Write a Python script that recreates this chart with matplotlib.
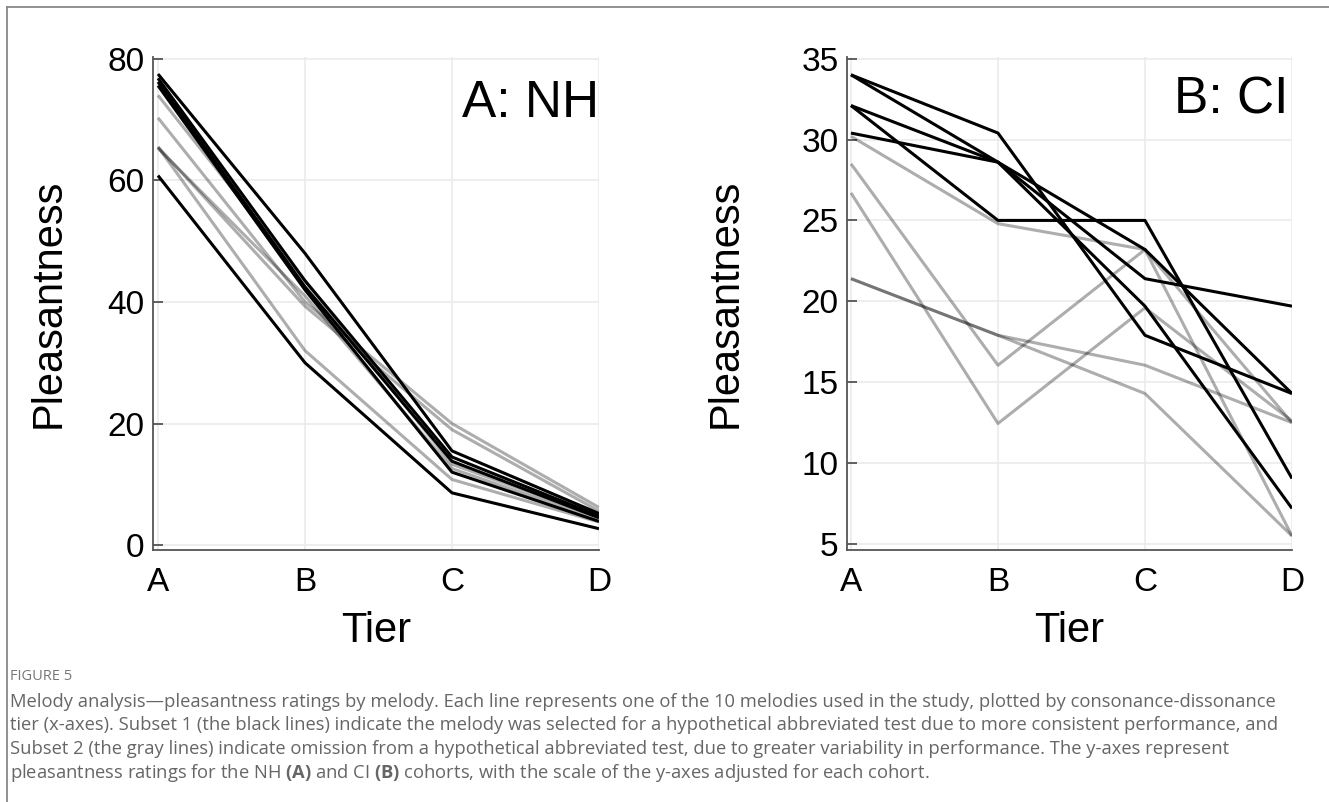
import matplotlib.pyplot as plt
import numpy as np
from matplotlib.lines import Line2D

tiers = ['A', 'B', 'C', 'D']

# NH cohort, ratings per tier (A-D) for each melody
nh_subset1 = [
    [77.5, 48.0, 15.5, 5.2],
    [76.8, 43.5, 14.5, 4.8],
    [76.2, 42.5, 13.8, 4.5],
    [75.6, 42.0, 12.0, 3.9],
    [60.8, 30.0, 8.6, 2.7],
]
nh_subset2 = [
    [74.0, 43.5, 13.3, 4.6],
    [70.3, 40.0, 20.0, 6.2],
    [65.5, 39.3, 19.0, 5.6],
    [65.5, 32.0, 10.8, 3.8],
    [65.3, 41.0, 12.6, 4.2],
]

# CI cohort
ci_subset1 = [
    [34.0, 30.4, 17.9, 14.3],
    [34.0, 28.6, 19.7, 7.2],
    [32.1, 28.6, 23.2, 14.3],
    [32.1, 25.0, 25.0, 9.05],
    [30.4, 28.6, 21.4, 19.7],
]
ci_subset2 = [
    [30.2, 24.8, 23.2, 12.5],
    [28.5, 16.05, 23.2, 5.5],
    [26.7, 12.45, 19.6, 12.6],
    [21.4, 17.9, 16.05, 12.5],
    [21.4, 17.9, 14.3, 5.5],
]

nh_yticks = [0, 20, 40, 60, 80]
ci_yticks = [5, 10, 15, 20, 25, 30, 35]

caption_title = 'FIGURE 5'
caption_lines = [
    'Melody analysis\u2014pleasantness ratings by melody. Each line represents one of the 10 melodies used in the study, plotted by consonance-dissonance',
    'tier (x-axes). Subset 1 (the black lines) indicate the melody was selected for a hypothetical abbreviated test due to more consistent performance, and',
    'Subset 2 (the gray lines) indicate omission from a hypothetical abbreviated test, due to greater variability in performance. The y-axes represent',
    'pleasantness ratings for the NH $\\mathbf{(A)}$ and CI $\\mathbf{(B)}$ cohorts, with the scale of the y-axes adjusted for each cohort.',
]

plt.rcParams['font.family'] = ['Liberation Sans', 'DejaVu Sans']
plt.rcParams['mathtext.fontset'] = 'custom'
plt.rcParams['mathtext.bf'] = 'Open Sans:bold'

fig = plt.figure(figsize=(13.29, 8.02), dpi=100)

ax1 = fig.add_axes([153 / 1329, 1 - 550 / 802, 446 / 1329, 493 / 802])
ax2 = fig.add_axes([847 / 1329, 1 - 550 / 802, 445 / 1329, 493 / 802])

x = np.arange(len(tiers))


def draw_panel(ax, subset1, subset2, yticks, ylim, xlim, tag, tag_x, tag_y, ylab_x):
    for vals in subset2:
        ax.plot(x, vals, color='k', alpha=0.32, lw=2.2, solid_capstyle='butt')
    for vals in subset1:
        ax.plot(x, vals, color='k', lw=2.2, solid_capstyle='butt')
    ax.set_xlim(*xlim)
    ax.set_ylim(*ylim)
    ax.set_xticks(x)
    ax.set_xticklabels(tiers)
    ax.set_yticks(yticks)
    ax.grid(True, color='#ebebeb', lw=1.2)
    ax.set_axisbelow(True)
    for s in ['top', 'right']:
        ax.spines[s].set_visible(False)
    for s in ['left', 'bottom']:
        ax.spines[s].set_color('#555555')
        ax.spines[s].set_linewidth(1.3)
    ax.tick_params(direction='in', length=7, width=1.3, color='#555555',
                   labelsize=24, labelcolor='k')
    ax.tick_params(axis='x', pad=12, length=0)
    ax.tick_params(axis='y', pad=6)
    ax.set_xlabel('Tier', fontsize=30, va='center')
    ax.xaxis.set_label_coords(0.5, -0.165)
    ax.set_ylabel('Pleasantness', fontsize=30, va='center')
    ax.yaxis.set_label_coords(ylab_x, 0.5)
    ax.text(tag_x, tag_y, tag, transform=ax.transAxes, fontsize=37,
            ha='right', va='baseline')


draw_panel(ax1, nh_subset1, nh_subset2, nh_yticks, (-0.8, 80.3), (-0.034, 3.0),
           'A: NH', 1.0, 0.878, -0.235)
draw_panel(ax2, ci_subset1, ci_subset2, ci_yticks, (4.63, 35.1), (-0.027, 3.0),
           'B: CI', 0.991, 0.886, -0.272)

# outer frame (top and left edge)
fig.add_artist(Line2D([7 / 1329, 1], [1 - 7 / 802, 1 - 7 / 802], color='#888888', lw=1.3))
fig.add_artist(Line2D([7 / 1329, 7 / 1329], [0, 1 - 7 / 802], color='#888888', lw=1.3))

fig.text(10 / 1329, 1 - 677 / 802, caption_title, fontsize=10.5, color='#777777',
         family=['Open Sans', 'DejaVu Sans'], va='center')
for i, line in enumerate(caption_lines):
    fig.text(10 / 1329, 1 - (702 + 23.5 * i) / 802, line, fontsize=13.2, color='#666666',
             family=['Open Sans', 'DejaVu Sans'], va='center')

fig.savefig('out.png', dpi=100)
